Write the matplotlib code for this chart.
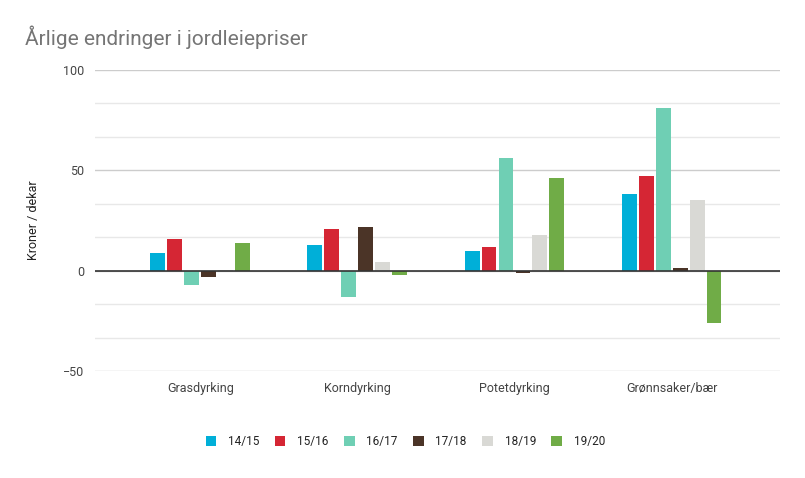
import numpy as np
import matplotlib.pyplot as plt

categories = ["Grasdyrking", "Korndyrking", "Potetdyrking", "Grønnsaker/bær"]
seasons = ["14/15", "15/16", "16/17", "17/18", "18/19", "19/20"]
v1415 = [9, 13, 10, 38]
v1516 = [16, 21, 12, 47]
v1617 = [-7, -13, 56, 81]
v1718 = [-3, 22, -1, 1.5]
v1819 = [0.5, 4.5, 18, 35]
v1920 = [14, -2, 46, -26]
colors = ["#00afd8", "#d52634", "#6fcfb4", "#4b3427", "#d9d9d5", "#70ac47"]

plt.rcParams["font.family"] = ["Roboto", "DejaVu Sans"]

fig = plt.figure(figsize=(8.05, 4.78), dpi=100)
ax = fig.add_axes([95 / 805, 1 - 371 / 478, 685 / 805, 301 / 478])

x = np.arange(len(categories))
step = 0.108
width = 0.095
series = [v1415, v1516, v1617, v1718, v1819, v1920]
for i, vals in enumerate(series):
    ax.bar(x + (i - 2.5) * step, vals, width, color=colors[i], label=seasons[i], zorder=3)

ax.set_xlim(-0.67, 3.69)
ax.set_ylim(-50, 100)
ax.set_yticks([-50, 0, 50, 100])
ax.set_yticklabels(["\u221250", "0", "50", "100"])
ax.set_yticks([-100 / 3, -50 / 3, 50 / 3, 100 / 3, 200 / 3, 250 / 3], minor=True)
ax.grid(axis="y", which="major", color="#cccccc", lw=1, zorder=0)
ax.grid(axis="y", which="minor", color="#e8e8e8", lw=1, zorder=0)
ax.axhline(0, color="#333333", lw=1.2, zorder=4)
ax.tick_params(axis="y", which="both", length=0, labelsize=9, colors="#444444", pad=8)
ax.tick_params(axis="x", length=0, labelsize=9, colors="#444444", pad=8)
ax.set_xticks(x)
ax.set_xticklabels(categories)
for s in ax.spines.values():
    s.set_visible(False)

ax.set_ylabel("Kroner / dekar", fontsize=9, color="#222222", labelpad=16)

fig.text(25 / 805, 1 - 37 / 478, "Årlige endringer i jordleiepriser", fontsize=15,
         color="#757575", va="center", ha="left")

ax.legend(loc="center", bbox_to_anchor=(0.453, -0.235), ncol=6, frameon=False,
          fontsize=8.5, handlelength=0.9, handleheight=0.9, columnspacing=1.3,
          handletextpad=1.0, labelcolor="#222222")

fig.savefig("out.png", dpi=100)
